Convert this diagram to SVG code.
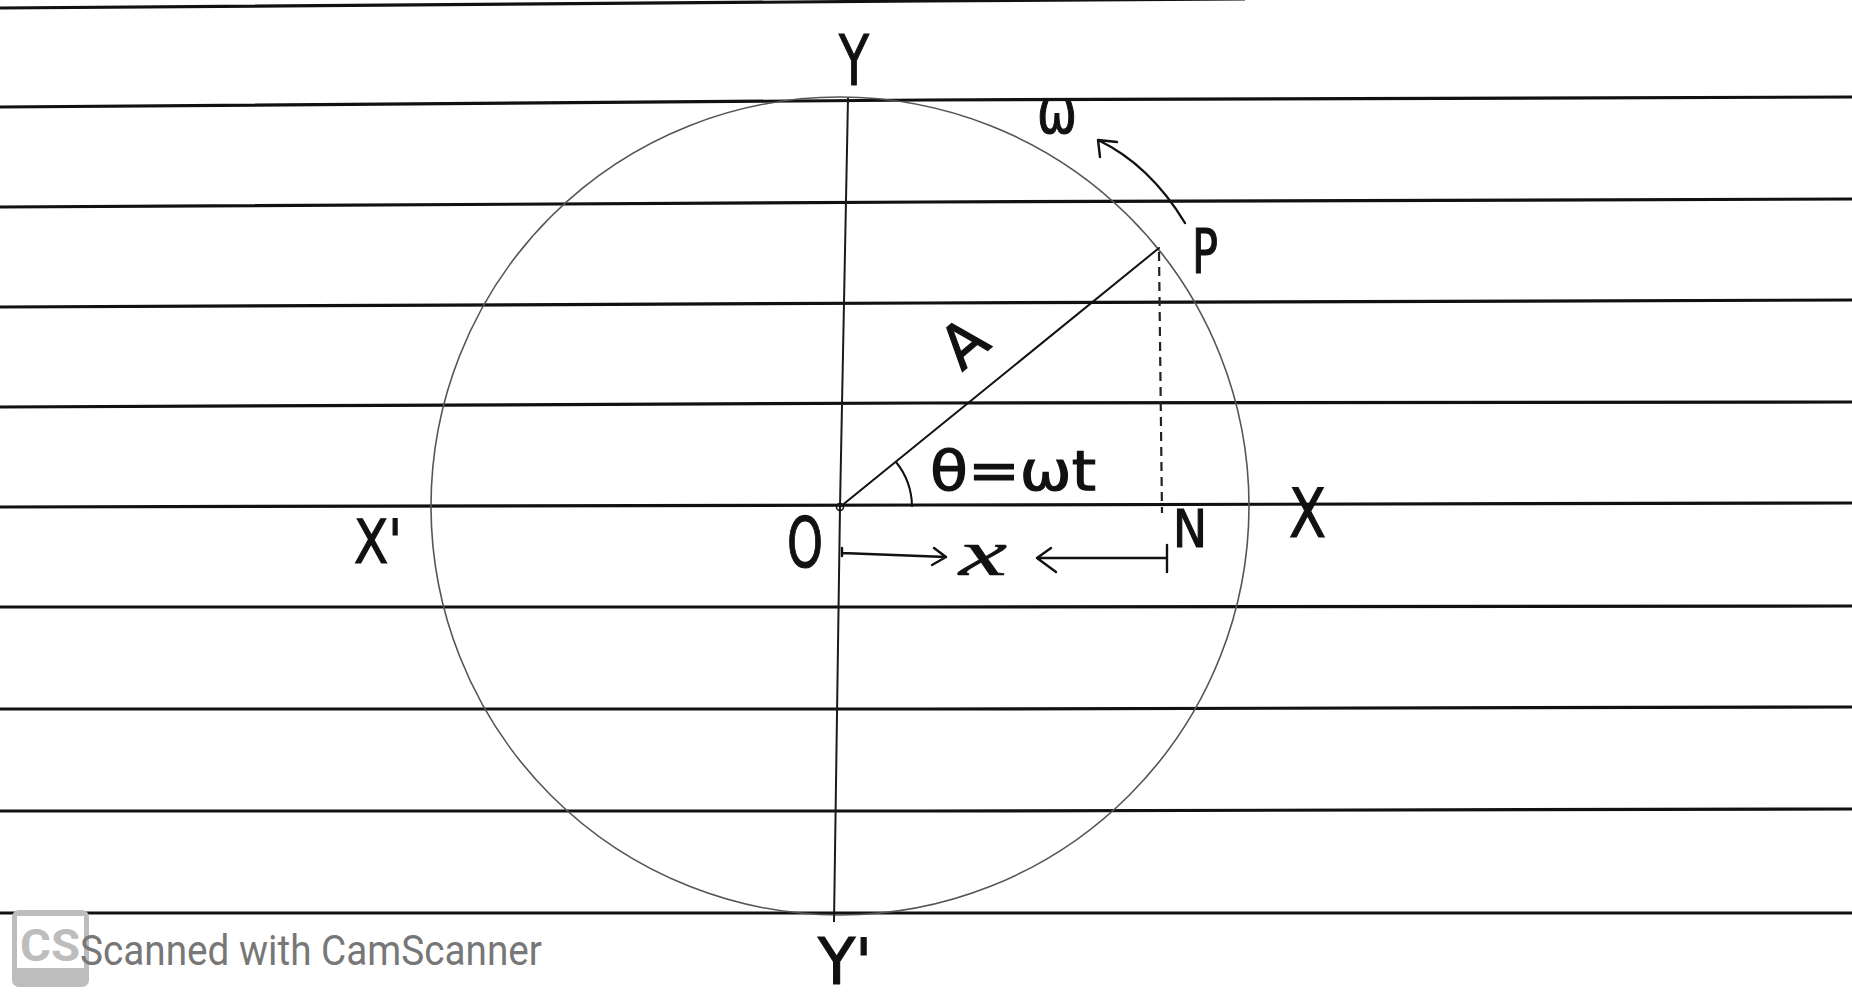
<svg xmlns="http://www.w3.org/2000/svg" width="1852" height="1000" viewBox="0 0 1852 1000">
<style>
.rule{fill:none;stroke:#111;stroke-width:3.2}
.axis{fill:none;stroke:#1a1a1a;stroke-width:2}
.circ{fill:none;stroke:#555;stroke-width:1.6}
.ink{fill:none;stroke:#111;stroke-width:2.4;stroke-linecap:round;stroke-linejoin:round}
.dash{fill:none;stroke:#222;stroke-width:2.2;stroke-dasharray:9 6}
.hand{font-family:"DejaVu Sans","Liberation Sans",sans-serif;fill:#111;stroke:#111;stroke-width:1.2}
.wm{font-family:Roboto,"Liberation Sans",sans-serif;fill:#777}
</style>
<rect width="1852" height="1000" fill="#fff"/>
<g id="paper">
<path class="rule" d="M0,8 L926,1 L1245,-1"/>
<path class="rule" d="M0,107 L926,100 L1852,97"/>
<path class="rule" d="M0,207 L926,202 L1852,199"/>
<path class="rule" d="M0,307 L926,303 L1852,300"/>
<path class="rule" d="M0,407 L926,403 L1852,402"/>
<path class="rule" d="M0,507 L926,505 L1852,503"/>
<path class="rule" d="M0,607 L926,607 L1852,606"/>
<path class="rule" d="M0,709 L926,709 L1852,707"/>
<path class="rule" d="M0,811 L926,811 L1852,809"/>
<path class="rule" d="M0,913 L926,913 L1852,913"/>
</g>
<g id="circle">
<circle class="circ" cx="840" cy="506" r="409"/>
</g>
<g id="connectors">
<path id="y-axis" class="axis" d="M848,98 L840,507 L834,922"/>
<path id="radius-OP" class="ink" style="stroke-width:2" d="M840,507 L1159,248"/>
<path id="PN" class="dash" d="M1159,252 L1162,513"/>
<path id="angle" class="ink" style="stroke-width:2" d="M896,462 A72,72 0 0 1 912,506"/>
<path id="omega-arrow" class="ink" d="M1185,223 Q1150,165 1098,140 M1098,140 L1117,142 M1098,140 L1100,157"/>
<path id="arrow-right" class="ink" d="M842,548 L842,556 M842,553 L946,557 M946,557 L934,548 M946,557 L932,565"/>
<path id="arrow-left" class="ink" d="M1167,545 L1167,572 M1167,558 L1037,558 M1037,558 L1051,548 M1037,558 L1056,572"/>
<circle cx="840" cy="507" r="3.5" fill="none" stroke="#111" stroke-width="1.5"/>
</g>
<g id="label-Y"><text class="hand" x="839" y="85" font-size="70" textLength="30" lengthAdjust="spacingAndGlyphs">Y</text></g>
<g id="label-Yp"><text class="hand" x="818" y="984" font-size="64" textLength="54" lengthAdjust="spacingAndGlyphs">Y'</text></g>
<g id="label-Xp"><text class="hand" x="354" y="563" font-size="60" textLength="48" lengthAdjust="spacingAndGlyphs">X'</text></g>
<g id="label-X"><text class="hand" x="1289" y="537" font-size="68" textLength="37" lengthAdjust="spacingAndGlyphs">X</text></g>
<g id="label-O"><text class="hand" x="787" y="567" font-size="70" textLength="36" lengthAdjust="spacingAndGlyphs">O</text></g>
<g id="label-N"><text class="hand" x="1173" y="547" font-size="52" textLength="34" lengthAdjust="spacingAndGlyphs">N</text></g>
<g id="label-P"><text class="hand" x="1192" y="273" font-size="60" textLength="26" lengthAdjust="spacingAndGlyphs">P</text></g>
<g id="label-omega"><text class="hand" x="1037" y="133" font-size="60" textLength="40" lengthAdjust="spacingAndGlyphs">ω</text></g>
<g id="label-A"><text class="hand" x="0" y="0" font-size="60" textLength="40" lengthAdjust="spacingAndGlyphs" transform="translate(962,372) rotate(-40)">A</text></g>
<g id="label-theta"><text class="hand" x="930" y="490" font-size="56" textLength="166" lengthAdjust="spacingAndGlyphs">θ=ωt</text></g>
<g id="label-x"><text x="959" y="575" font-size="66" font-style="italic" fill="#111" stroke="#111" stroke-width="0.6" textLength="48" lengthAdjust="spacingAndGlyphs" style="font-family:'Liberation Serif',serif">x</text></g>
<g id="watermark">
<rect x="12" y="910" width="77" height="77" rx="7" fill="#bdbdbd"/>
<rect x="17" y="916" width="67" height="52" fill="#fff"/>
<text class="wm" x="20" y="961" font-size="44" font-weight="bold" style="fill:#bdbdbd" textLength="60" lengthAdjust="spacingAndGlyphs">CS</text>
<text class="wm" x="80" y="965" font-size="42" textLength="462" lengthAdjust="spacingAndGlyphs">Scanned with CamScanner</text>
</g>
</svg>
